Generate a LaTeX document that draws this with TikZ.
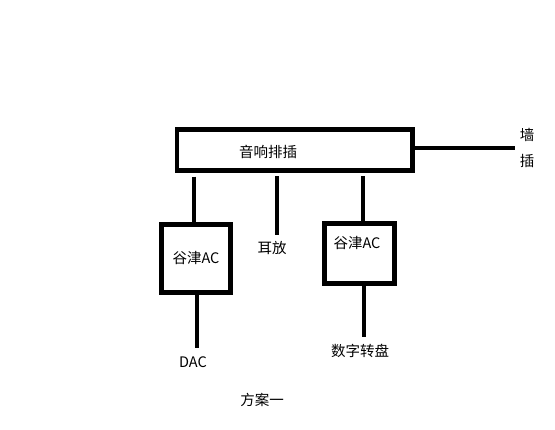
\documentclass[tikz,border=0pt]{standalone}
\usepackage{fontspec}
\setmainfont{Noto Sans CJK SC}
\begin{document}
\begin{tikzpicture}[x=1pt,y=-1pt,
  box/.style={draw, line width=4.6pt, inner sep=0pt, minimum width=#1},
  wire/.style={line width=4.4pt},
  lbl/.style={font=\fontsize{14.5}{16}\selectfont, inner sep=0pt}]
\useasboundingbox (0,0) rectangle (555,429);
% boxes
\node[box=235.5, minimum height=41] (main) at (294.75,150) {};
\node[box=69, minimum height=68] (lbox) at (196,258.5) {};
\node[box=70, minimum height=60] (rbox) at (359.5,253.5) {};
% labels
\node[lbl] (tmain) at (268,152) {音响排插};
\node[lbl] (tl) at (196,258) {谷津AC};
\node[lbl] (tr) at (357,243) {谷津AC};
\node[lbl] (terfang) at (272,248) {耳放};
\node[lbl] (tdac) at (193,362) {DAC};
\node[lbl] (tzp) at (360,351) {数字转盘};
\node[lbl] (tfa) at (262,400) {方案一};
\node[lbl] (tq) at (527,135) {墙};
\node[lbl] (tc) at (527,161) {插};
% free ends
\coordinate (wallend) at (515,148);
\coordinate (l1) at (194,176.5);
\coordinate (m1) at (277,176);
\coordinate (m2) at (277,235);
\coordinate (r1) at (363,176);
\coordinate (l2) at (197,348);
\coordinate (r2) at (364,337);
% connectors
\draw[wire] (main.east |- wallend) -- (wallend);
\draw[wire] (l1) -- (l1 |- lbox.north);
\draw[wire] (m1) -- (m2);
\draw[wire] (r1) -- (r1 |- rbox.north);
\draw[wire] (l2 |- lbox.south) -- (l2);
\draw[wire] (r2 |- rbox.south) -- (r2);
\end{tikzpicture}
\end{document}
